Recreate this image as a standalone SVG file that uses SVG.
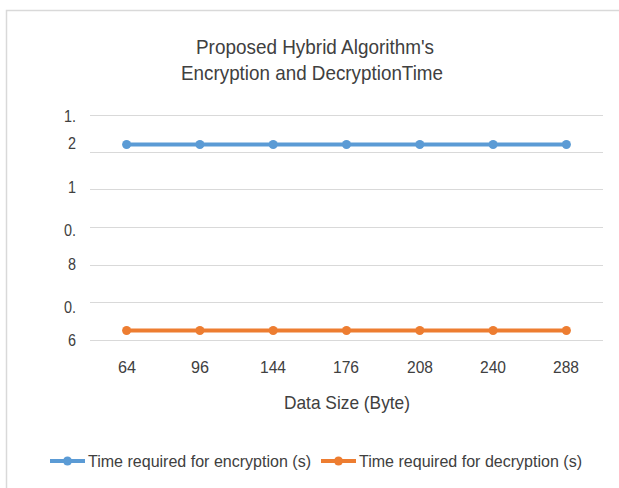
<svg xmlns="http://www.w3.org/2000/svg" width="619" height="488" viewBox="0 0 619 488">
  <style>
    text { font-family: "Liberation Sans", Arial, sans-serif; fill: #404040; }
    .title { font-size: 21px; }
    .tick { font-size: 16px; }
    .axis { font-size: 19px; }
    .legend { font-size: 16px; }
    .grid { stroke: #d9d9d9; stroke-width: 1; }
    .enc { stroke: #5b9bd5; stroke-width: 4; fill: none; }
    .dec { stroke: #ed7d31; stroke-width: 4; fill: none; }
    .encDot { fill: #5b9bd5; }
    .decDot { fill: #ed7d31; }
  </style>
  <defs>
    <marker id="dotBlue" viewBox="0 0 10 10" refX="5" refY="5" markerWidth="10" markerHeight="10" markerUnits="userSpaceOnUse">
      <circle cx="5" cy="5" r="4.5" fill="#5b9bd5"/>
    </marker>
    <marker id="dotOrange" viewBox="0 0 10 10" refX="5" refY="5" markerWidth="10" markerHeight="10" markerUnits="userSpaceOnUse">
      <circle cx="5" cy="5" r="4.5" fill="#ed7d31"/>
    </marker>
  </defs>

  <!-- chart area -->
  <rect x="0" y="0" width="619" height="488" fill="#ffffff"/>
  <rect x="6.5" y="10.5" width="700" height="600" fill="none" stroke="#d9d9d9" stroke-width="1.5"/>

  <!-- title -->
  <g id="title">
    <text class="title" x="315" y="53.5" text-anchor="middle" textLength="238" lengthAdjust="spacingAndGlyphs">Proposed Hybrid Algorithm's</text>
    <text class="title" x="312" y="79.5" text-anchor="middle" textLength="262" lengthAdjust="spacingAndGlyphs">Encryption and DecryptionTime</text>
  </g>

  <!-- gridlines -->
  <g id="gridlines">
    <line class="grid" x1="90" y1="115.5" x2="603" y2="115.5"/>
    <line class="grid" x1="90" y1="152.5" x2="603" y2="152.5"/>
    <line class="grid" x1="90" y1="189.5" x2="603" y2="189.5"/>
    <line class="grid" x1="90" y1="227.5" x2="603" y2="227.5"/>
    <line class="grid" x1="90" y1="265.5" x2="603" y2="265.5"/>
    <line class="grid" x1="90" y1="302.5" x2="603" y2="302.5"/>
    <line class="grid" x1="90" y1="340.5" x2="603" y2="340.5"/>
  </g>

  <!-- vertical axis labels -->
  <g id="y-axis">
    <text class="tick" x="76" y="122" text-anchor="end" textLength="12" lengthAdjust="spacingAndGlyphs">1.</text>
    <text class="tick" x="76" y="149" text-anchor="end" textLength="8" lengthAdjust="spacingAndGlyphs">2</text>
    <text class="tick" x="76" y="193" text-anchor="end" textLength="8" lengthAdjust="spacingAndGlyphs">1</text>
    <text class="tick" x="76" y="236" text-anchor="end" textLength="12" lengthAdjust="spacingAndGlyphs">0.</text>
    <text class="tick" x="76" y="270" text-anchor="end" textLength="8" lengthAdjust="spacingAndGlyphs">8</text>
    <text class="tick" x="76" y="313" text-anchor="end" textLength="12" lengthAdjust="spacingAndGlyphs">0.</text>
    <text class="tick" x="76" y="346" text-anchor="end" textLength="8" lengthAdjust="spacingAndGlyphs">6</text>
  </g>

  <!-- horizontal axis labels -->
  <g id="x-axis">
    <text class="tick" x="127" y="373" text-anchor="middle" textLength="18" lengthAdjust="spacingAndGlyphs">64</text>
    <text class="tick" x="200" y="373" text-anchor="middle" textLength="18" lengthAdjust="spacingAndGlyphs">96</text>
    <text class="tick" x="273" y="373" text-anchor="middle" textLength="26" lengthAdjust="spacingAndGlyphs">144</text>
    <text class="tick" x="346" y="373" text-anchor="middle" textLength="26" lengthAdjust="spacingAndGlyphs">176</text>
    <text class="tick" x="420" y="373" text-anchor="middle" textLength="26" lengthAdjust="spacingAndGlyphs">208</text>
    <text class="tick" x="493" y="373" text-anchor="middle" textLength="26" lengthAdjust="spacingAndGlyphs">240</text>
    <text class="tick" x="566" y="373" text-anchor="middle" textLength="26" lengthAdjust="spacingAndGlyphs">288</text>
    <text class="axis" x="347" y="409" text-anchor="middle" textLength="126" lengthAdjust="spacingAndGlyphs">Data Size (Byte)</text>
  </g>

  <!-- data series -->
  <g id="connectors">
    <polyline id="series-encryption" class="enc" points="126.6,144.5 199.9,144.5 273.2,144.5 346.5,144.5 419.8,144.5 493.1,144.5 566.4,144.5"
      marker-start="url(#dotBlue)" marker-mid="url(#dotBlue)" marker-end="url(#dotBlue)"/>
    <polyline id="series-decryption" class="dec" points="126.6,330.5 199.9,330.5 273.2,330.5 346.5,330.5 419.8,330.5 493.1,330.5 566.4,330.5"
      marker-start="url(#dotOrange)" marker-mid="url(#dotOrange)" marker-end="url(#dotOrange)"/>
  </g>

  <!-- legend -->
  <g id="legend-encryption">
    <line class="enc" x1="50" y1="461" x2="85" y2="461"/>
    <circle class="encDot" cx="67.5" cy="461" r="4.5"/>
    <text class="legend" x="88" y="467" textLength="223" lengthAdjust="spacingAndGlyphs">Time required for encryption (s)</text>
  </g>
  <g id="legend-decryption">
    <line class="dec" x1="321" y1="461" x2="356" y2="461"/>
    <circle class="decDot" cx="338.5" cy="461" r="4.5"/>
    <text class="legend" x="359" y="467" textLength="223" lengthAdjust="spacingAndGlyphs">Time required for decryption (s)</text>
  </g>
</svg>
